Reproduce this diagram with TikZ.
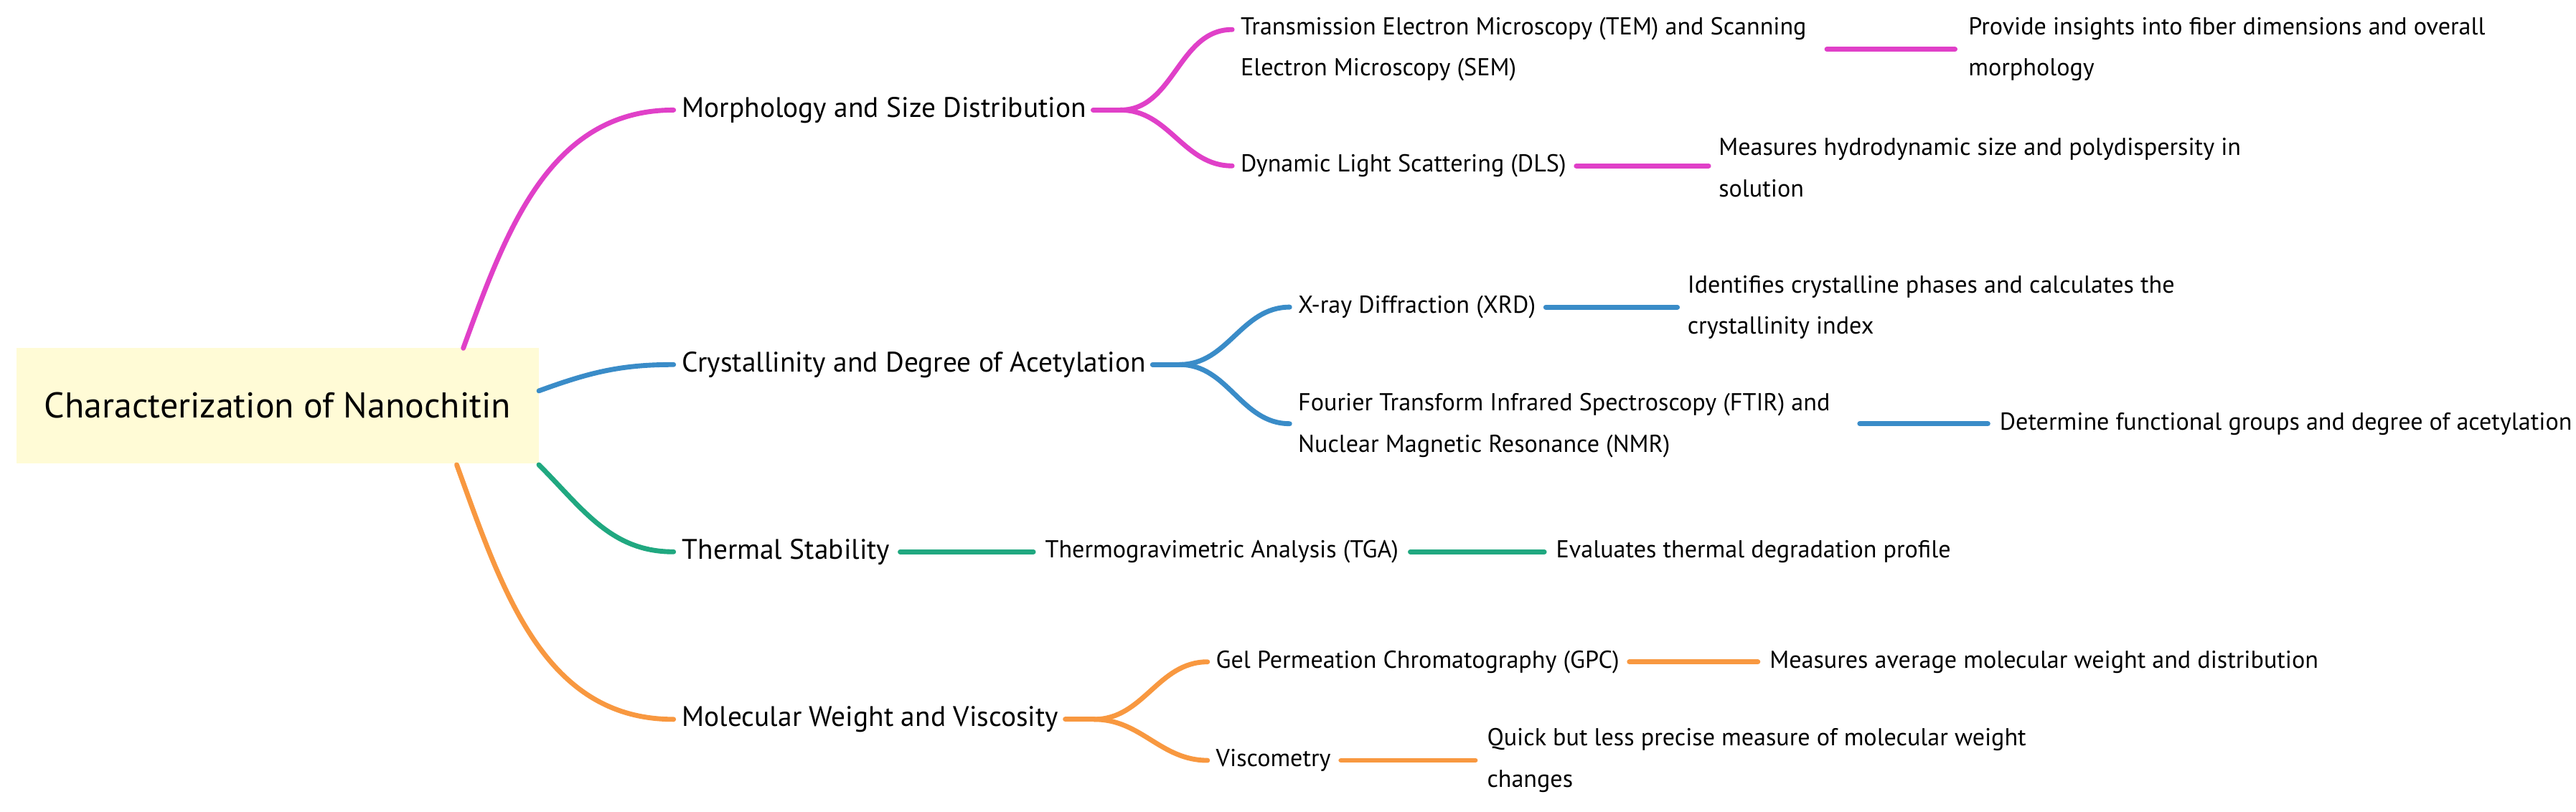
\documentclass[tikz,border=0pt]{standalone}
\usepackage{fontspec}
\setmainfont{PT Sans}
\definecolor{cpink}{HTML}{E040C8}
\definecolor{cblue}{HTML}{3A8CC8}
\definecolor{cgreen}{HTML}{20A880}
\definecolor{corange}{HTML}{F89840}
\definecolor{rootfill}{HTML}{FFFBD6}
\begin{document}
\begin{tikzpicture}[x=1pt,y=-1pt,
  lone/.style={anchor=west,inner sep=0pt,font=\fontsize{17.2}{20}\selectfont},
  ltwo/.style={anchor=west,inner sep=0pt,align=left,font=\fontsize{14.9}{25}\selectfont},
  br/.style={line width=3pt,line cap=round}]
\useasboundingbox (0,0) rectangle (1568,494);
\node[fill=rootfill,minimum width=318pt,minimum height=70pt,inner sep=0pt,font=\fontsize{21.8}{24}\selectfont] (root) at (169,247) {Characterization of Nanochitin};
% level 1
\node[lone] (m) at (415,67) {Morphology and Size Distribution};
\node[lone] (c) at (415,222) {Crystallinity and Degree of Acetylation};
\node[lone] (t) at (415,336) {Thermal Stability};
\node[lone] (w) at (415,438) {Molecular Weight and Viscosity};
\coordinate (rp) at (282,212);
\coordinate (rb) at (328,238);
\coordinate (rg) at (328,283);
\coordinate (ro) at (278,283);
\draw[br,cpink] (rp) to[out=70,in=180] ([xshift=-5pt]m.west);
\draw[br,cblue] (rb) to[out=20,in=180] ([xshift=-5pt]c.west);
\draw[br,cgreen] (rg) to[out=-45,in=180] ([xshift=-5pt]t.west);
\draw[br,corange] (ro) to[out=-70,in=180] ([xshift=-5pt]w.west);
% pink children
\node[ltwo] (m1) at (755,30) {Transmission Electron Microscopy (TEM) and Scanning\\Electron Microscopy (SEM)};
\node[ltwo] (m1a) at (1198,30) {Provide insights into fiber dimensions and overall\\morphology};
\node[ltwo] (m2) at (755,101) {Dynamic Light Scattering (DLS)};
\node[ltwo] (m2a) at (1046,102) {Measures hydrodynamic size and polydispersity in\\solution};
\coordinate (mf) at (682,67);
\draw[br,cpink] ([xshift=4pt]m.east) -- (mf);
\draw[br,cpink] (mf) to[out=0,in=180] ([xshift=-5pt]m1.west|-0,18);
\draw[br,cpink] (mf) to[out=0,in=180] ([xshift=-5pt]m2.west);
\draw[br,cpink] (1112,30) -- ([xshift=-8pt]m1a.west);
\draw[br,cpink] ([xshift=6pt]m2.east) -- ([xshift=-6pt]m2a.west|-m2.west);
% blue children
\node[ltwo] (c1) at (790,187) {X-ray Diffraction (XRD)};
\node[ltwo] (c1a) at (1027,187) {Identifies crystalline phases and calculates the\\crystallinity index};
\node[ltwo] (c2) at (790,259) {Fourier Transform Infrared Spectroscopy (FTIR) and\\Nuclear Magnetic Resonance (NMR)};
\node[ltwo] (c2a) at (1217,258) {Determine functional groups and degree of acetylation};
\coordinate (cf) at (718,222);
\draw[br,cblue] ([xshift=4pt]c.east) -- (cf);
\draw[br,cblue] (cf) to[out=0,in=180] ([xshift=-5pt]c1.west);
\draw[br,cblue] (cf) to[out=0,in=180] ([xshift=-5pt]c2.west|-0,258);
\draw[br,cblue] ([xshift=6pt]c1.east) -- ([xshift=-6pt]c1a.west|-c1.west);
\draw[br,cblue] (1132,258) -- ([xshift=-7pt]c2a.west);
% green
\node[lone] (t1) at (636,336) {\fontsize{14.9}{18}\selectfont Thermogravimetric Analysis (TGA)};
\node[lone] (t2) at (947,336) {\fontsize{14.9}{18}\selectfont Evaluates thermal degradation profile};
\draw[br,cgreen] ([xshift=6pt]t.east) -- ([xshift=-7pt]t1.west);
\draw[br,cgreen] ([xshift=7pt]t1.east) -- ([xshift=-7pt]t2.west);
% orange
\node[ltwo] (w1) at (740,403) {Gel Permeation Chromatography (GPC)};
\node[ltwo] (w1a) at (1077,403) {Measures average molecular weight and distribution};
\node[ltwo] (w2) at (740,463) {Viscometry};
\node[ltwo] (w2a) at (905,463) {Quick but less precise measure of molecular weight\\changes};
\coordinate (wf) at (666,438);
\draw[br,corange] ([xshift=4pt]w.east) -- (wf);
\draw[br,corange] (wf) to[out=0,in=180] ([xshift=-5pt]w1.west);
\draw[br,corange] (wf) to[out=0,in=180] ([xshift=-5pt]w2.west);
\draw[br,corange] ([xshift=6pt]w1.east) -- ([xshift=-7pt]w1a.west);
\draw[br,corange] ([xshift=6pt]w2.east) -- ([xshift=-7pt]w2a.west|-w2.west);
\end{tikzpicture}
\end{document}
